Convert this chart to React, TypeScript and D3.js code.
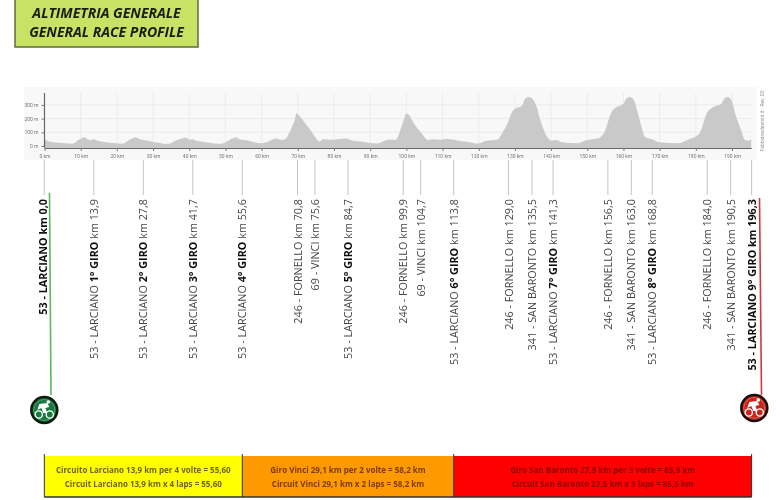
import React, { useEffect, useRef } from 'react';
import * as d3 from 'd3';

// altitude profile (km, metres)
const profileKm = [0, 0.4, 1, 2.5, 4, 5.5, 7.5, 8.5, 9.3, 10, 11, 12, 12.8, 13.6, 15, 17, 19, 20.5, 21.8, 22.5, 23.5, 24.3, 25, 26.3, 27.2, 28.5, 30, 31.5, 33.5, 35, 36, 37, 38, 39, 40, 41, 42, 44, 46, 48, 49.5, 50.5, 51.3, 52, 52.8, 54, 55, 56.5, 58, 60, 62, 64, 65.5, 66.5, 68, 69, 69.7, 70.8, 72, 73.5, 75, 76, 77, 79, 81, 83, 85, 87.5, 90, 92, 95, 97, 99, 100, 100.7, 102, 104, 106, 107, 109, 111, 113, 114, 117, 120, 122, 125, 127, 128, 129, 130, 132, 132.8, 133.8, 134.8, 136, 137, 138, 139, 140, 141.3, 143, 147, 150, 153, 155, 156.5, 158, 160, 160.8, 161.8, 162.8, 164, 165, 166, 168, 170, 175, 178, 181, 183, 185, 187, 187.8, 188.8, 189.8, 191, 192.5, 193.5, 194.5, 195.3];
const profileM = [40, 46, 34, 28, 24, 20, 16, 26, 44, 52, 63, 48, 44, 50, 36, 28, 22, 18, 18, 28, 46, 54, 63, 50, 46, 38, 30, 24, 16, 20, 36, 48, 54, 62, 46, 50, 38, 30, 22, 16, 20, 34, 48, 54, 63, 48, 46, 38, 28, 20, 35, 55, 45, 50, 117, 178, 238, 209, 168, 117, 58, 33, 50, 45, 50, 55, 40, 32, 22, 18, 45, 45, 168, 238, 228, 168, 100, 44, 50, 45, 52, 48, 40, 30, 18, 38, 45, 117, 168, 238, 272, 296, 345, 358, 345, 287, 190, 117, 63, 39, 44, 27, 20, 44, 56, 117, 238, 282, 311, 345, 358, 338, 238, 140, 63, 48, 27, 20, 48, 92, 238, 287, 306, 345, 358, 338, 226, 117, 48, 39, 48];

const distanceTicks = [0, 10, 20, 30, 40, 50, 60, 70, 80, 90, 100, 110, 120, 130, 140, 150, 160, 170, 180, 190];
const altitudeTicks = [0, 100, 200, 300];

const wayKm = [0, 13.9, 27.8, 41.7, 55.6, 70.8, 75.6, 84.7, 99.9, 104.7, 113.8, 129.0, 135.5, 141.3, 156.5, 163.0, 168.8, 184.0, 190.5, 196.3];
const wayAlt = [53, 53, 53, 53, 53, 246, 69, 53, 246, 69, 53, 246, 341, 53, 246, 341, 53, 246, 341, 53];
const wayName = ['LARCIANO', 'LARCIANO', 'LARCIANO', 'LARCIANO', 'LARCIANO', 'FORNELLO', 'VINCI', 'LARCIANO', 'FORNELLO', 'VINCI', 'LARCIANO', 'FORNELLO', 'SAN BARONTO', 'LARCIANO', 'FORNELLO', 'SAN BARONTO', 'LARCIANO', 'FORNELLO', 'SAN BARONTO', 'LARCIANO'];
const wayLap = ['', '1° GIRO', '2° GIRO', '3° GIRO', '4° GIRO', '', '', '5° GIRO', '', '', '6° GIRO', '', '', '7° GIRO', '', '', '8° GIRO', '', '', '9° GIRO'];

const sectorKm = [0, 55.6, 113.8, 196.3];
const sectorFill = ['#ffff00', '#ff9900', '#ff0000'];
const sectorInk = ['#6f6400', '#7a3c00', '#8a0000'];
const sectorIt = ['Circuito Larciano 13,9 km per 4 volte = 55,60', 'Giro Vinci 29,1 km per 2 volte = 58,2 km', 'Giro San Baronto 27,5 km per 3 volte = 85,5 km'];
const sectorEn = ['Circuit Larciano 13,9 km x 4 laps = 55,60', 'Circuit Vinci 29,1 km x 2 laps = 58,2 km', 'Circuit San Baronto 27,5 km x 3 laps = 85,5 km'];

const titleLines = ['ALTIMETRIA GENERALE', 'GENERAL RACE PROFILE'];
const FONT = "'Open Sans', sans-serif";

function drawRider(svg: any, cx: number, cy: number, fill: string, ring: string) {
    const g = svg.append('g').attr('transform', `translate(${cx},${cy})`);
    g.append('circle').attr('r', 13).attr('fill', fill).attr('stroke', ring).attr('stroke-width', 2.5);
    g.append('circle').attr('r', 10.5).attr('fill', 'none').attr('stroke', '#fff').attr('stroke-opacity', 0.25);
    g.append('circle').attr('cx', -5.5).attr('cy', 4.5).attr('r', 3.6).attr('fill', 'none').attr('stroke', '#fff').attr('stroke-width', 1.4);
    g.append('circle').attr('cx', 5.5).attr('cy', 4.5).attr('r', 3.6).attr('fill', 'none').attr('stroke', '#fff').attr('stroke-width', 1.4);
    g.append('path').attr('d', 'M-5,-6 L3,-7 L5,-3 L1,-2 L3,3 L-1,3 L-3,-2 L-7,0 Z').attr('fill', '#fff');
    g.append('circle').attr('cx', 4).attr('cy', -8).attr('r', 1.8).attr('fill', '#fff');
}

function App() {
    const ref = useRef<SVGSVGElement>(null);

    useEffect(() => {
        const svg = d3.select(ref.current);
        svg.selectAll('*').remove();

        const defs = svg.append('defs');
        defs.append('filter').attr('id', 'soft').append('feGaussianBlur').attr('stdDeviation', 0.5);
        defs.append('filter').attr('id', 'softer').append('feGaussianBlur').attr('stdDeviation', 0.25);

        const page = svg.append('g').attr('filter', 'url(#softer)');

        // title box
        page.append('rect').attr('x', 15).attr('y', -3).attr('width', 183).attr('height', 50)
            .attr('fill', '#c8e264').attr('stroke', '#5c6b3c').attr('stroke-width', 1.5);
        page.selectAll('.title').data(titleLines).enter().append('text')
            .attr('class', 'title')
            .attr('x', 106.5)
            .attr('y', (d, i) => 17.5 + i * 19.5)
            .attr('text-anchor', 'middle')
            .attr('font-family', FONT)
            .attr('font-size', 14)
            .attr('font-weight', 700)
            .attr('font-style', 'italic')
            .attr('fill', '#1c1c14')
            .text(d => d);

        // altitude profile
        const x = d3.scaleLinear().domain([0, 195.3]).range([44.5, 751.2]);
        const y = d3.scaleLinear().domain([0, 100]).range([146, 132.3]);
        const baseY = 148;
        const topY = 93;

        const plot = svg.append('g').attr('filter', 'url(#soft)');
        plot.append('rect').attr('x', 24).attr('y', 87).attr('width', 733).attr('height', 73).attr('fill', '#f8f8f8');

        plot.selectAll('.vgrid').data(distanceTicks.slice(1)).enter().append('line')
            .attr('x1', d => x(d)).attr('x2', d => x(d))
            .attr('y1', topY).attr('y2', baseY)
            .attr('stroke', '#ececec').attr('stroke-width', 1);
        plot.selectAll('.hgrid').data(altitudeTicks).enter().append('line')
            .attr('x1', x(0)).attr('x2', x(195.3))
            .attr('y1', d => y(d)).attr('y2', d => y(d))
            .attr('stroke', '#ececec').attr('stroke-width', 1);

        const area = d3.area<number>()
            .x((d, i) => x(profileKm[i]))
            .y0(baseY)
            .y1(d => y(d))
            .curve(d3.curveMonotoneX);
        plot.append('path').datum(profileM).attr('fill', '#c9c9c9').attr('d', area);

        const xAxis = plot.append('g')
            .attr('transform', `translate(0,${baseY})`)
            .call(d3.axisBottom(x).tickValues(distanceTicks).tickSize(3).tickSizeOuter(0).tickFormat(d => `${d} km`));
        xAxis.select('.domain').attr('stroke', '#666').attr('stroke-width', 1.2);
        xAxis.selectAll('line').attr('stroke', '#777');
        xAxis.selectAll('text').attr('font-family', 'Roboto, sans-serif').attr('font-size', 5).attr('fill', '#777');

        const yAxis = plot.append('g')
            .attr('transform', `translate(${x(0)},0)`)
            .call(d3.axisLeft(y).tickValues(altitudeTicks).tickSize(3).tickSizeOuter(0).tickFormat(d => `${d} m`));
        yAxis.select('.domain').attr('d', `M0,${topY}V${baseY}`).attr('stroke', '#666').attr('stroke-width', 1.2);
        yAxis.selectAll('line').attr('stroke', '#777');
        yAxis.selectAll('text').attr('font-family', 'Roboto, sans-serif').attr('font-size', 5).attr('fill', '#777');

        plot.append('text')
            .attr('transform', 'translate(764,121) rotate(-90)')
            .attr('text-anchor', 'middle')
            .attr('font-family', 'Roboto, sans-serif')
            .attr('font-size', 5)
            .attr('fill', '#999')
            .text('Fabbianedesmid.it - Rev. 00');

        // waypoints, the picture is not quite linear so it gets a piecewise scale
        const wx = d3.scaleLinear().domain(sectorKm).range([44.3, 242.3, 453.7, 751.6]);
        const kmLabel = (d: number) => d.toFixed(1).replace('.', ',');

        page.selectAll('.way').data(wayKm).enter().append('line')
            .attr('x1', d => wx(d)).attr('x2', d => wx(d))
            .attr('y1', 160).attr('y2', 195)
            .attr('stroke', '#c4c4c4').attr('stroke-width', 1);

        wayKm.forEach((km, i) => {
            const ends = i === 0 || i === wayKm.length - 1;
            const labelX = i === 0 ? wx(km) - 1.6 : wx(km);
            const t = page.append('text')
                .attr('transform', `translate(${labelX + 4},199) rotate(-90)`)
                .attr('text-anchor', 'end')
                .attr('font-family', FONT)
                .attr('font-size', 10.8)
                .attr('fill', ends ? '#111' : '#444')
                .attr('font-weight', ends ? 700 : 400);
            t.append('tspan').text(`${wayAlt[i]} - ${wayName[i]} `);
            if (wayLap[i]) t.append('tspan').attr('font-weight', 700).attr('fill', '#111').text(`${wayLap[i]} `);
            t.append('tspan').text(`km ${kmLabel(km)}`);
        });

        // start and finish flags
        page.append('line').attr('x1', 49.5).attr('y1', 193).attr('x2', 51).attr('y2', 395)
            .attr('stroke', '#5cb85c').attr('stroke-width', 1.6);
        page.append('line').attr('x1', 759.5).attr('y1', 198).attr('x2', 761.5).attr('y2', 395)
            .attr('stroke', '#cf3a3a').attr('stroke-width', 1.6);
        drawRider(page, 44.3, 410, '#16793c', '#0b1a10');
        drawRider(page, 754.3, 408, '#c8281e', '#1a0c0c');

        // lap bar
        const bar = page.append('g');
        const barTop = 456;
        const barBottom = 497;
        d3.pairs(sectorKm).forEach(([a, b], i) => {
            bar.append('rect')
                .attr('x', wx(a)).attr('y', barTop)
                .attr('width', wx(b) - wx(a)).attr('height', barBottom - barTop)
                .attr('fill', sectorFill[i]);
            [sectorIt[i], sectorEn[i]].forEach((s, j) => {
                bar.append('text')
                    .attr('x', (wx(a) + wx(b)) / 2)
                    .attr('y', 473 + j * 14)
                    .attr('text-anchor', 'middle')
                    .attr('font-family', FONT)
                    .attr('font-size', 8)
                    .attr('font-weight', 700)
                    .attr('fill', sectorInk[i])
                    .text(s);
            });
        });
        bar.append('line').attr('x1', wx(0)).attr('x2', wx(196.3)).attr('y1', barBottom).attr('y2', barBottom)
            .attr('stroke', '#333').attr('stroke-width', 1.5);
        bar.selectAll('.sep').data(sectorKm).enter().append('line')
            .attr('x1', d => wx(d)).attr('x2', d => wx(d))
            .attr('y1', barTop - 2).attr('y2', barBottom)
            .attr('stroke', '#333').attr('stroke-width', 1);
    }, []);

    return <svg ref={ref} width={780} height={500} style={{ position: 'absolute', left: 0, top: 0, background: '#fff' }} />;
}

export default App;
